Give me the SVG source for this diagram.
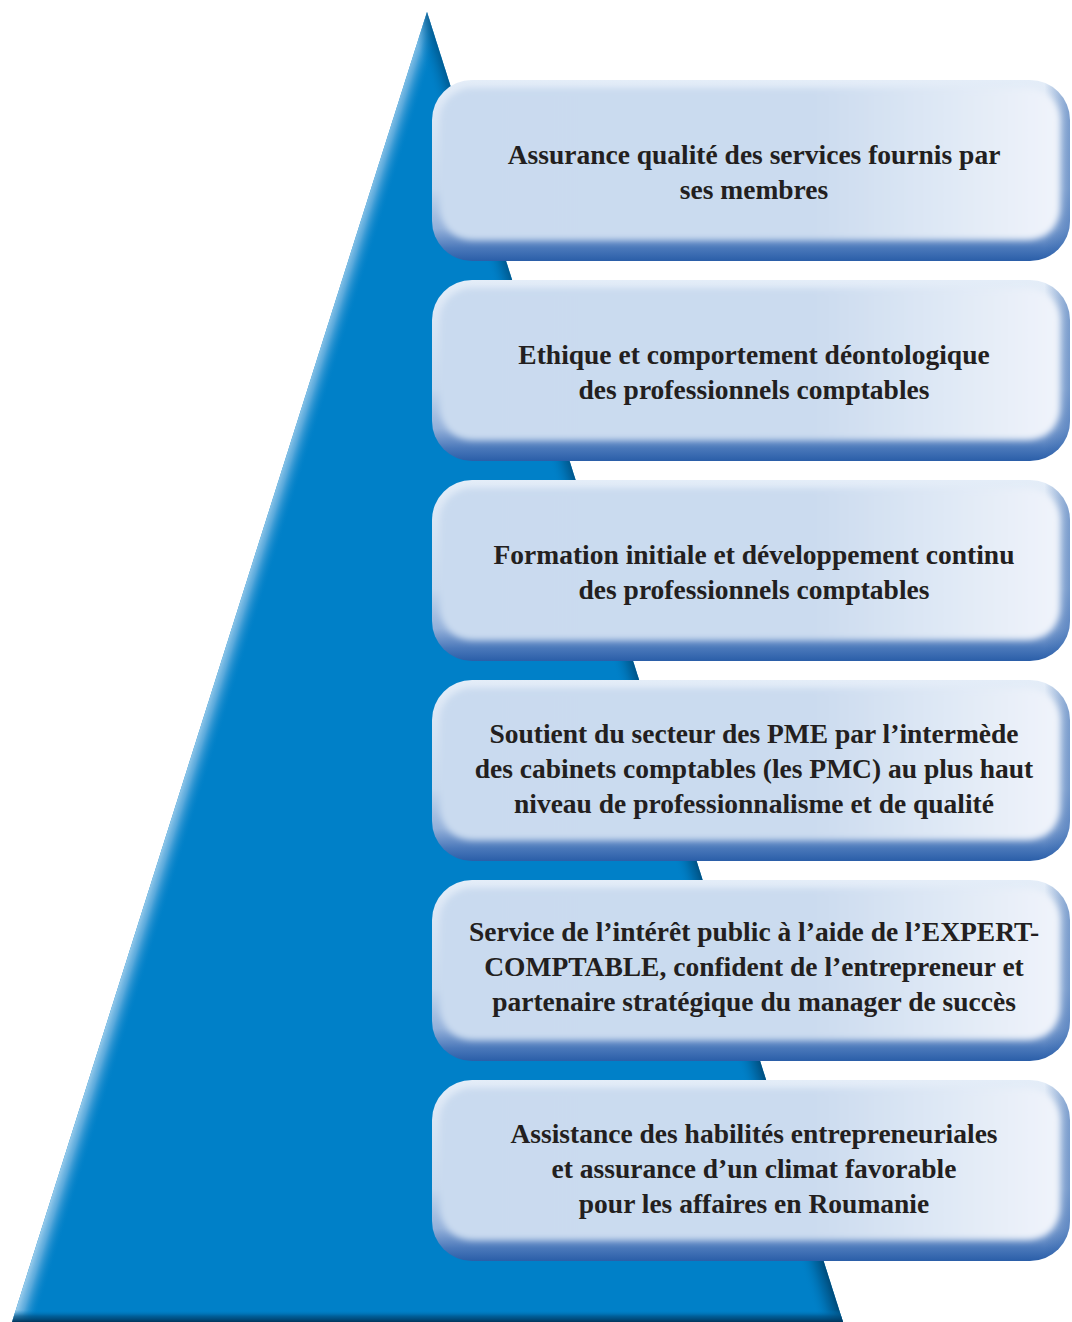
<svg xmlns="http://www.w3.org/2000/svg" width="1072" height="1322" viewBox="0 0 1072 1322">
<defs>
<linearGradient id="triLeft" gradientUnits="userSpaceOnUse" x1="12" y1="1322" x2="33" y2="1328.6">
<stop offset="0" stop-color="#9ccdec" stop-opacity="1"/>
<stop offset="0.35" stop-color="#6fb3e0" stop-opacity="0.8"/>
<stop offset="1" stop-color="#0080c8" stop-opacity="0"/>
</linearGradient>
<linearGradient id="triRight" gradientUnits="userSpaceOnUse" x1="843" y1="1322" x2="820" y2="1329.2">
<stop offset="0" stop-color="#004a78" stop-opacity="1"/>
<stop offset="0.4" stop-color="#005f98" stop-opacity="0.7"/>
<stop offset="1" stop-color="#0080c8" stop-opacity="0"/>
</linearGradient>
<linearGradient id="triBottom" gradientUnits="userSpaceOnUse" x1="0" y1="1322" x2="0" y2="1310">
<stop offset="0" stop-color="#00365c" stop-opacity="1"/>
<stop offset="0.5" stop-color="#005185" stop-opacity="0.7"/>
<stop offset="1" stop-color="#0080c8" stop-opacity="0"/>
</linearGradient>
<linearGradient id="outerV" x1="0" y1="0" x2="0" y2="1">
<stop offset="0" stop-color="#e4edf8"/>
<stop offset="0.6" stop-color="#c8d9ee"/>
<stop offset="0.82" stop-color="#93b0da"/>
<stop offset="0.93" stop-color="#4a78ba"/>
<stop offset="1" stop-color="#2a5ea8"/>
</linearGradient>
<linearGradient id="outerH" x1="0" y1="0" x2="1" y2="0">
<stop offset="0" stop-color="#2a5ea8" stop-opacity="0"/>
<stop offset="0.96" stop-color="#2a5ea8" stop-opacity="0"/>
<stop offset="1" stop-color="#3b6cb2" stop-opacity="0.6"/>
</linearGradient>
<linearGradient id="innerH" x1="0" y1="0" x2="1" y2="0">
<stop offset="0" stop-color="#c9daef"/>
<stop offset="0.6" stop-color="#cbdbef"/>
<stop offset="1" stop-color="#f0f4fb"/>
</linearGradient>
<filter id="soft" x="-5%" y="-10%" width="110%" height="120%">
<feGaussianBlur stdDeviation="3"/>
</filter>
<g id="box">
<rect x="432" y="0" width="638" height="181" rx="40" fill="url(#outerV)"/>
<rect x="432" y="0" width="638" height="181" rx="40" fill="url(#outerH)"/>
<rect x="440" y="8" width="620" height="152" rx="32" fill="url(#innerH)" filter="url(#soft)"/>
</g>
</defs>
<style>
.lbl { font-family: "Liberation Serif", "Times New Roman", serif; font-weight: bold; font-size: 27.5px; fill: #231f20; text-anchor: middle; }
</style>
<rect width="1072" height="1322" fill="#ffffff"/>
<g id="pyramid">
<polygon points="427,12 12,1322 843,1322" fill="#0080c8"/>
<polygon points="427,12 12,1322 843,1322" fill="url(#triLeft)"/>
<polygon points="427,12 12,1322 843,1322" fill="url(#triRight)"/>
<polygon points="427,12 12,1322 843,1322" fill="url(#triBottom)"/>
</g>
<g id="connectors"></g>
<g id="node1">
<use href="#box" y="80"/>
<text class="lbl" x="754" y="164">Assurance qualité des services fournis par</text>
<text class="lbl" x="754" y="199">ses membres</text>
</g>
<g id="node2">
<use href="#box" y="280"/>
<text class="lbl" x="754" y="364">Ethique et comportement déontologique</text>
<text class="lbl" x="754" y="399">des professionnels comptables</text>
</g>
<g id="node3">
<use href="#box" y="480"/>
<text class="lbl" x="754" y="564">Formation initiale et développement continu</text>
<text class="lbl" x="754" y="599">des professionnels comptables</text>
</g>
<g id="node4">
<use href="#box" y="680"/>
<text class="lbl" x="754" y="743">Soutient du secteur des PME par l’intermède</text>
<text class="lbl" x="754" y="778">des cabinets comptables (les PMC) au plus haut</text>
<text class="lbl" x="754" y="813">niveau de professionnalisme et de qualité</text>
</g>
<g id="node5">
<use href="#box" y="880"/>
<text class="lbl" x="754" y="941">Service de l’intérêt public à l’aide de l’EXPERT-</text>
<text class="lbl" x="754" y="976">COMPTABLE, confident de l’entrepreneur et</text>
<text class="lbl" x="754" y="1011">partenaire stratégique du manager de succès</text>
</g>
<g id="node6">
<use href="#box" y="1080"/>
<text class="lbl" x="754" y="1143">Assistance des habilités entrepreneuriales</text>
<text class="lbl" x="754" y="1178">et assurance d’un climat favorable</text>
<text class="lbl" x="754" y="1213">pour les affaires en Roumanie</text>
</g>
</svg>
